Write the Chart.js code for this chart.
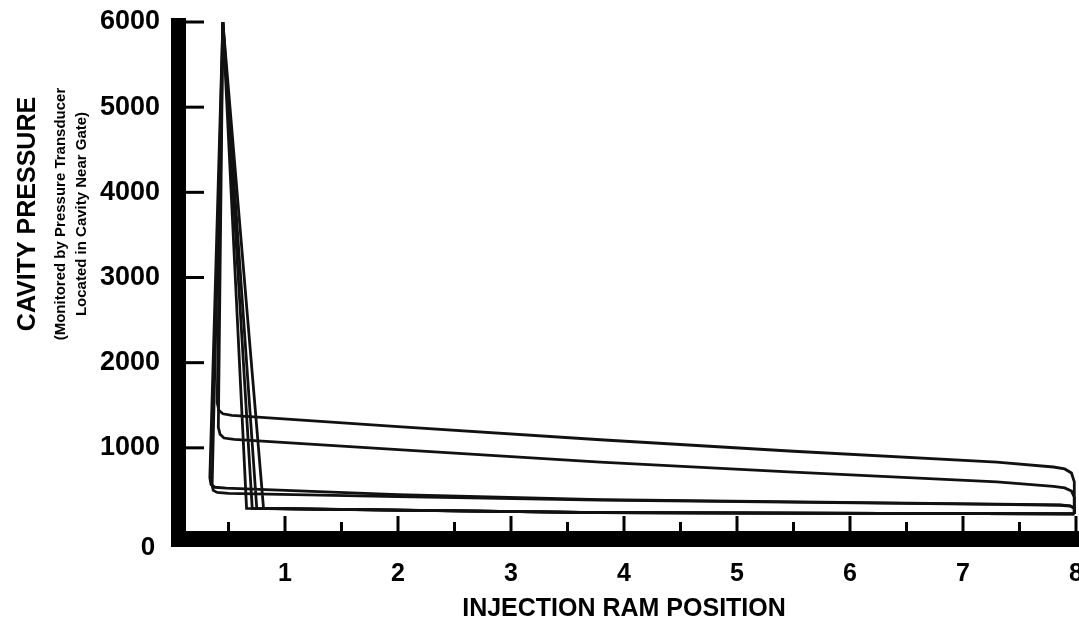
<!DOCTYPE html>
<html>
<head>
<meta charset="utf-8">
<script src="https://cdn.jsdelivr.net/npm/chart.js@4.4.0/dist/chart.umd.min.js"></script>
<style>
    html, body { margin: 0; padding: 0; background: #fff; }
</style>
</head>
<body>
<canvas id="pressureChart" width="1079" height="628"></canvas>
<script>
// ram position (x) / cavity pressure (y), one loop per shot
const loopA_x = [7.985, 3.8, 0.66, 0.45, 0.40, 0.415, 0.45, 0.53, 2.0, 3.79, 5.5, 7.3, 7.8, 7.9, 7.96, 7.985, 7.985];
const loopA_y = [225, 240, 290, 6000, 1530, 1440, 1400, 1382, 1250, 1095, 960, 833, 775, 752, 705, 600, 225];

const loopB_x = [7.985, 3.8, 0.71, 0.45, 0.41, 0.425, 0.46, 0.55, 2.0, 3.79, 5.5, 7.3, 7.8, 7.9, 7.96, 7.985, 7.985];
const loopB_y = [225, 240, 290, 6000, 1240, 1160, 1115, 1100, 980, 833, 715, 600, 548, 530, 492, 420, 225];

const loopC_x = [7.985, 3.8, 0.75, 0.45, 0.335, 0.345, 0.38, 0.48, 2.0, 3.79, 7.3, 7.86, 7.95, 7.985, 7.985];
const loopC_y = [225, 240, 290, 6000, 650, 570, 537, 526, 450, 392, 340, 330, 318, 290, 225];

const loopD_x = [7.985, 3.8, 0.81, 0.45, 0.355, 0.365, 0.40, 0.50, 2.0, 3.79, 7.3, 7.86, 7.95, 7.985, 7.985];
const loopD_y = [225, 240, 290, 6000, 560, 500, 476, 466, 428, 385, 336, 326, 316, 290, 225];

const yTicks = [1000, 2000, 3000, 4000, 5000, 6000];
const xMajorTicks = [1, 2, 3, 4, 5, 6, 7, 8];
const xMinorTicks = [0.5, 1.5, 2.5, 3.5, 4.5, 5.5, 6.5, 7.5];

const fontFamily = '"Liberation Sans", Arial, sans-serif';

function toPoints(xs, ys) {
    return xs.map((x, i) => ({ x: x, y: ys[i] }));
}

function loopDataset(xs, ys) {
    return {
        data: toPoints(xs, ys),
        showLine: true,
        borderColor: '#111',
        borderWidth: 2.8,
        pointRadius: 0,
        tension: 0,
        clip: false
    };
}

// thick axis bars, inward ticks, the origin "0" and the rotated axis titles
const axisFrame = {
    id: 'axisFrame',
    afterDatasetsDraw(chart) {
        const { ctx, scales: { x, y } } = chart;
        const x0 = x.getPixelForValue(0);
        const y0 = y.getPixelForValue(0);
        const yTop = y.getPixelForValue(6000);

        ctx.save();
        ctx.fillStyle = '#000';
        ctx.fillRect(x0 - 1, yTop - 4, 15, y0 + 14 - (yTop - 4));
        ctx.fillRect(x0 - 1, y0 - 2, chart.width - x0 + 1, 16);

        ctx.strokeStyle = '#000';
        ctx.lineWidth = 3;
        yTicks.forEach(v => {
            const py = y.getPixelForValue(v);
            ctx.beginPath();
            ctx.moveTo(x0 + 14, py);
            ctx.lineTo(x0 + 32, py);
            ctx.stroke();
        });
        xMajorTicks.forEach(v => {
            const px = x.getPixelForValue(v);
            ctx.beginPath();
            ctx.moveTo(px, y0 - 2);
            ctx.lineTo(px, y0 - 17);
            ctx.stroke();
        });
        xMinorTicks.forEach(v => {
            const px = x.getPixelForValue(v);
            ctx.beginPath();
            ctx.moveTo(px, y0 - 2);
            ctx.lineTo(px, y0 - 11);
            ctx.stroke();
        });

        ctx.textAlign = 'center';
        ctx.textBaseline = 'middle';
        ctx.font = 'bold 26px ' + fontFamily;
        ctx.fillText('0', x0 - 24, y0 + 15);

        ctx.translate(28, 214);
        ctx.rotate(-Math.PI / 2);
        ctx.font = 'bold 25px ' + fontFamily;
        ctx.fillText('CAVITY PRESSURE', 0, 0);
        ctx.font = 'bold 15px ' + fontFamily;
        ctx.fillText('(Monitored by Pressure Transducer', 0, 33);
        ctx.fillText('Located in Cavity Near Gate)', 0, 54);
        ctx.restore();
    }
};

const ctx = document.getElementById('pressureChart').getContext('2d');
new Chart(ctx, {
    type: 'scatter',
    data: {
        datasets: [
            loopDataset(loopA_x, loopA_y),
            loopDataset(loopB_x, loopB_y),
            loopDataset(loopC_x, loopC_y),
            loopDataset(loopD_x, loopD_y)
        ]
    },
    options: {
        responsive: false,
        animation: false,
        layout: { padding: { top: 22, right: 3, left: 0, bottom: 0 } },
        plugins: {
            legend: { display: false },
            tooltip: { enabled: false }
        },
        scales: {
            x: {
                type: 'linear',
                min: 0,
                max: 8,
                grid: { display: false, drawTicks: false },
                border: { display: false },
                ticks: {
                    stepSize: 1,
                    padding: 26,
                    color: '#000',
                    font: { family: fontFamily, size: 25, weight: 'bold' },
                    callback: v => (v === 0 ? '' : v)
                },
                title: {
                    display: true,
                    text: 'INJECTION RAM POSITION',
                    color: '#000',
                    font: { family: fontFamily, size: 25, weight: 'bold' },
                    padding: { top: 6, bottom: 4 }
                },
                afterFit: s => {
                    s.height = 95;
                    s.paddingLeft = 0;
                    s.paddingRight = 0;
                }
            },
            y: {
                type: 'linear',
                min: 0,
                max: 6000,
                grid: { display: false, drawTicks: false },
                border: { display: false },
                ticks: {
                    stepSize: 1000,
                    padding: 12,
                    color: '#000',
                    font: { family: fontFamily, size: 27, weight: 'bold' },
                    callback: v => (v === 0 ? '' : v)
                },
                afterFit: s => {
                    s.width = 172;
                    s.paddingTop = 0;
                    s.paddingBottom = 0;
                }
            }
        }
    },
    plugins: [axisFrame]
});
</script>
</body>
</html>
